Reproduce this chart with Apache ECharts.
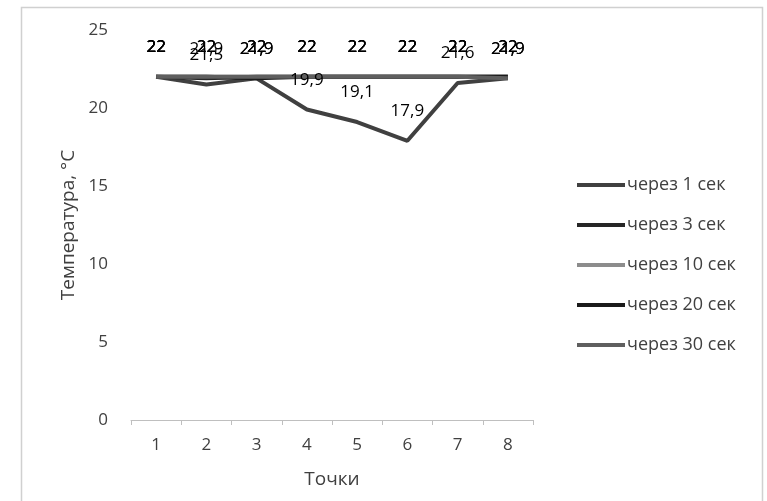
<!DOCTYPE html>
<html><head><meta charset="utf-8">
<script src="https://cdn.jsdelivr.net/npm/echarts@6/dist/echarts.min.js"></script>
<style>html,body{margin:0;padding:0;background:#fff}#c{width:767px;height:501px}</style>
</head><body><div id="c"></div>
<script>
var categories = ['1','2','3','4','5','6','7','8'];
var seriesNames = ['через 1 сек','через 3 сек','через 10 сек','через 20 сек','через 30 сек'];
var s1 = [22, 21.5, 21.9, 19.9, 19.1, 17.9, 21.6, 21.9];
var s3 = [22, 21.9, 22, 22, 22, 22, 22, 22];
var s10 = [22, 22, 22, 22, 22, 22, 22, 22];
var s20 = [22, 22, 21.9, 22, 22, 22, 22, 22];
var s30 = [22, 22, 22, 22, 22, 22, 22, 21.9];
var colors = ['#404040','#262626','#8c8c8c','#1a1a1a','#5f5f5f'];
var FONT = '"Open Sans", sans-serif';
var all = [s1, s3, s10, s20, s30];
var chart = echarts.init(document.getElementById('c'));
chart.setOption({
  animation: false,
  textStyle: {fontFamily: FONT},
  graphic: [{type:'rect', shape:{x:21.5,y:7.5,width:741,height:510}, style:{fill:'none', stroke:'#d0d0d0', lineWidth:1.5}, silent:true}],
  grid: {left:131, right:234, top:30, bottom:81},
  legend: {
    orient:'vertical', left:572, top:170, itemGap:20, itemWidth:48, itemHeight:4,
    icon:'rect', textStyle:{fontSize:18, lineHeight:20, color:'#404040', fontFamily:FONT, padding:[0,0,0,-3]},
    data: seriesNames
  },
  xAxis: {
    type:'category', data:categories, boundaryGap:true,
    name:'Точки', nameLocation:'middle', nameGap:50,
    nameTextStyle:{fontSize:19, color:'#404040'},
    axisLine:{lineStyle:{color:'#bfbfbf', width:1}},
    axisTick:{show:true, length:5, lineStyle:{color:'#bfbfbf'}},
    axisLabel:{fontSize:17, color:'#404040', margin:17}
  },
  yAxis: {
    type:'value', min:0, max:25, interval:5,
    name:'Температура, °С', nameLocation:'middle', nameGap:53, nameRotate:90,
    nameTextStyle:{fontSize:19, color:'#404040'},
    axisLine:{show:false}, axisTick:{show:false}, splitLine:{show:false},
    axisLabel:{fontSize:17, color:'#404040', margin:23}
  },
  series: all.map(function(d,i){
    return {
      name: seriesNames[i], type:'line', data:d, symbol:'circle', symbolSize:0, showSymbol:true,
      lineStyle:{color:colors[i], width:4}, itemStyle:{color:colors[i]},
      label:{show:true, position:'top', distance:21, fontSize:17, color:'#000', fontFamily:FONT,
        formatter:function(p){return String(p.value).replace('.',',');}}
    };
  })
});
</script></body></html>
